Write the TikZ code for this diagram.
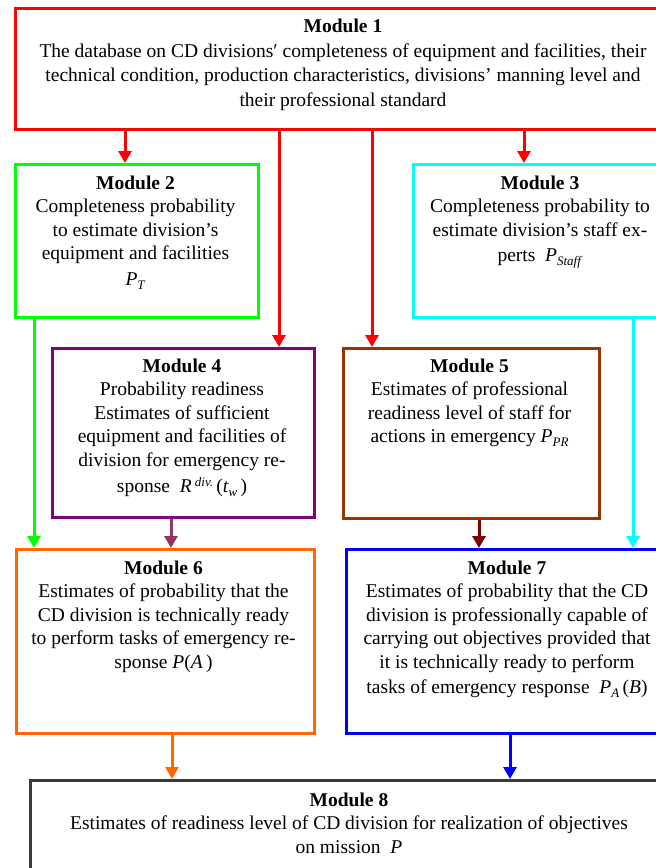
\documentclass[tikz,border=0pt]{standalone}
\usepackage{fontspec}
\setmainfont{Liberation Serif}
\usetikzlibrary{arrows.meta}
\definecolor{cRed}{HTML}{FF0000}
\definecolor{cGreen}{HTML}{00FF00}
\definecolor{cCyan}{HTML}{00FFFF}
\definecolor{cPurple}{HTML}{800080}
\definecolor{cBrown}{HTML}{993300}
\definecolor{cOrange}{HTML}{FF6600}
\definecolor{cBlue}{HTML}{0000FF}
\definecolor{cGray}{HTML}{3A3A3A}
\definecolor{cPlum}{HTML}{993366}
\definecolor{cMaroon}{HTML}{800000}
\newcommand\vi[1]{\textit{#1}}
\newcommand\vsub[1]{\raisebox{-0.45ex}{\fontsize{13pt}{13pt}\selectfont\textit{#1}}}
\newcommand\vsup[1]{\raisebox{0.75ex}{\fontsize{13pt}{13pt}\selectfont\textit{#1}}}
\tikzset{
  modbox/.style={draw=#1, line width=3pt, rectangle, inner sep=0pt},
  modtxt/.style={align=center, inner sep=0pt, anchor=north,
    font=\fontsize{19.5pt}{23.5pt}\selectfont},
  arr/.style={draw=#1, line width=3pt, -{Triangle[length=12pt,width=13pt]}}
}
\begin{document}
\begin{tikzpicture}[x=1pt,y=-1pt]
\useasboundingbox (0,0) rectangle (656,868);
\clip (0,0) rectangle (656,868);
% boxes
\node[modbox=cRed, minimum width=661pt, minimum height=121pt, anchor=north west] (m1) at (14,7) {};
\node[modbox=cGreen, minimum width=243pt, minimum height=153pt, anchor=north west] (m2) at (14,163) {};
\node[modbox=cCyan, minimum width=263pt, minimum height=153pt, anchor=north west] (m3) at (412,163) {};
\node[modbox=cPurple, minimum width=262pt, minimum height=169pt, anchor=north west] (m4) at (51,347) {};
\node[modbox=cBrown, minimum width=256pt, minimum height=170pt, anchor=north west] (m5) at (342,347) {};
\node[modbox=cOrange, minimum width=298pt, minimum height=184pt, anchor=north west] (m6) at (15,548) {};
\node[modbox=cBlue, minimum width=330pt, minimum height=184pt, anchor=north west] (m7) at (345,548) {};
\node[modbox=cGray, minimum width=646pt, minimum height=110pt, anchor=north west] (m8) at (29,779) {};
% texts
\node[modtxt, font=\fontsize{19.5pt}{24.5pt}\selectfont] (t1) at (343,19) {\textbf{Module 1}\\
The database on CD divisions′ completeness of equipment and facilities, their\\
technical condition, production characteristics, divisions’ manning level and\\
their professional standard};
\node[modtxt] (t2) at (135.5,175.5) {\textbf{Module 2}\\
Completeness probability\\
to estimate division’s\\
equipment and facilities\\[2pt]
\vi{P}\vsub{T}};
\node[modtxt] (t3) at (540,175.5) {\textbf{Module 3}\\
Completeness probability to\\
estimate division’s staff ex-\\[2pt]
perts \ \vi{P}\vsub{Staff}};
\node[modtxt] (t4) at (182,358.5) {\textbf{Module 4}\\
Probability readiness\\
Estimates of sufficient\\
equipment and facilities of\\
division for emergency re-\\[3pt]
sponse \ \vi{R}\,\vsup{div.}\,(\vi{t}\vsub{w}\,)};
\node[modtxt] (t5) at (469.5,358.5) {\textbf{Module 5}\\
Estimates of professional\\
readiness level of staff for\\
actions in emergency \vi{P}\vsub{PR}};
\node[modtxt] (t6) at (163.5,560.5) {\textbf{Module 6}\\
Estimates of probability that the\\
CD division is technically ready\\
to perform tasks of emergency re-\\
sponse \vi{P}(\vi{A}\,)};
\node[modtxt] (t7) at (507,560.5) {\textbf{Module 7}\\
Estimates of probability that the CD\\
division is professionally capable of\\
carrying out objectives provided that\\
it is technically ready to perform\\[2pt]
tasks of emergency response \ \vi{P}\vsub{A}\,(\vi{B})};
\node[modtxt] (t8) at (349,792.5) {\textbf{Module 8}\\
Estimates of readiness level of CD division for realization of objectives\\
on mission \ \vi{P}};
% arrow x positions
\coordinate (x12) at (125,0);
\coordinate (x14) at (279,0);
\coordinate (x15) at (372,0);
\coordinate (x13) at (524,0);
\coordinate (x26) at (34,0);
\coordinate (x37) at (633,0);
\coordinate (x46) at (171,0);
\coordinate (x57) at (479,0);
\coordinate (x68) at (172,0);
\coordinate (x78) at (510,0);
% connectors
\draw[arr=cRed] (m1.south -| x12) -- (m2.north -| x12);
\draw[arr=cRed] (m1.south -| x14) -- (m4.north -| x14);
\draw[arr=cRed] (m1.south -| x15) -- (m5.north -| x15);
\draw[arr=cRed] (m1.south -| x13) -- (m3.north -| x13);
\draw[arr=cGreen] (m2.south -| x26) -- (m6.north -| x26);
\draw[arr=cCyan] (m3.south -| x37) -- (m7.north -| x37);
\draw[arr=cPlum] (m4.south -| x46) -- (m6.north -| x46);
\draw[arr=cMaroon] (m5.south -| x57) -- (m7.north -| x57);
\draw[arr=cOrange] (m6.south -| x68) -- (m8.north -| x68);
\draw[arr=cBlue] (m7.south -| x78) -- (m8.north -| x78);
\end{tikzpicture}
\end{document}
